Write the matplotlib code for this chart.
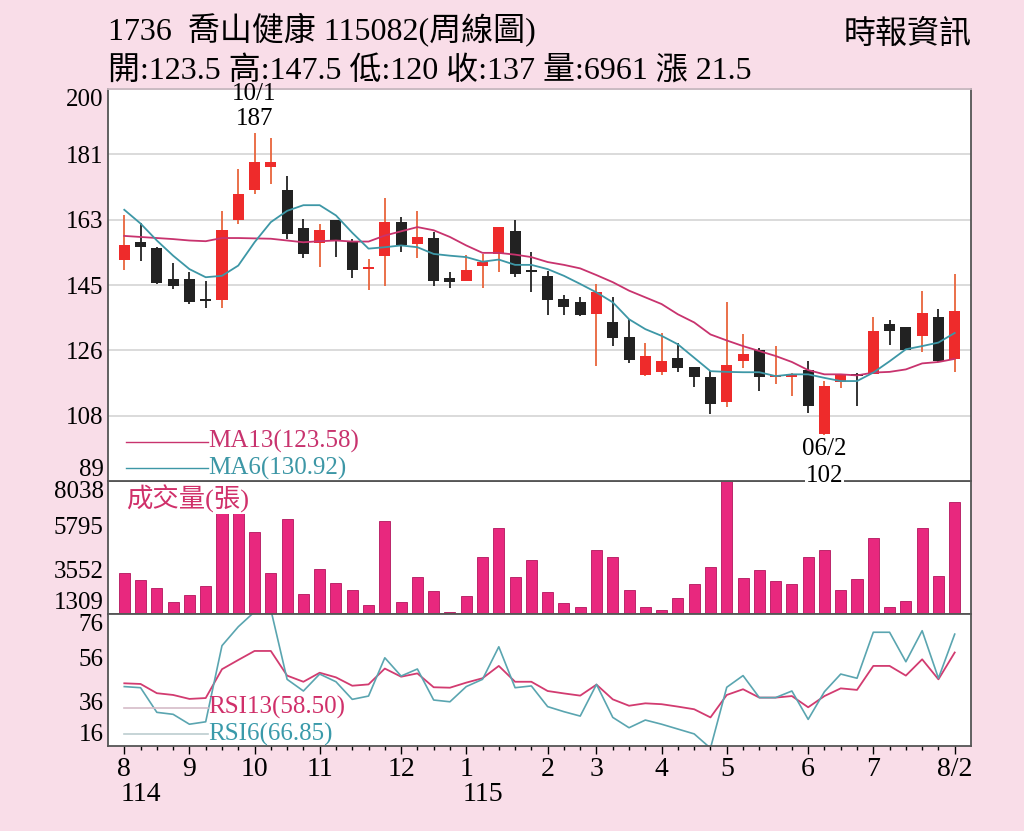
import numpy as np
import matplotlib
matplotlib.use('Agg')
import matplotlib.pyplot as plt
from matplotlib.transforms import blended_transform_factory

plt.rcParams['font.family'] = ['Liberation Serif', 'Noto Sans CJK TC']

# weekly candles, 114/08 .. 115/08
opens = [151.7, 156.7, 155.0, 146.2, 146.2, 140.5, 140.2, 162.8, 171.5, 178.0,
         171.3, 160.7, 156.4, 162.8, 157.1, 149.0, 152.7, 162.3, 156.2, 157.7,
         146.6, 145.7, 149.8, 153.3, 159.8, 148.8, 147.0, 140.5, 139.6, 136.2,
         134.1, 129.8, 118.9, 119.9, 123.9, 121.2, 118.4, 111.4, 123.0, 126.0,
         118.4, 118.5, 120.4, 102.4, 117.0, 119.2, 119.4, 133.4, 132.5, 130.1,
         135.5, 123.5]
highs = [164.2, 162.1, 155.3, 150.7, 148.3, 145.7, 165.4, 177.3, 187.5, 186.0,
         175.4, 163.1, 161.9, 162.8, 157.6, 151.9, 169.0, 163.8, 165.4, 159.5,
         148.1, 153.1, 153.3, 160.8, 162.8, 153.8, 148.6, 141.6, 141.0, 144.8,
         141.0, 134.8, 128.0, 131.0, 128.0, 121.4, 120.1, 139.7, 130.5, 126.8,
         127.1, 119.5, 123.0, 117.3, 119.2, 119.7, 135.3, 134.5, 132.5, 142.7,
         137.7, 147.5]
lows = [148.8, 151.2, 144.8, 143.4, 139.1, 138.1, 137.9, 161.9, 170.4, 173.2,
        157.6, 152.1, 149.7, 152.5, 146.4, 143.1, 144.3, 153.8, 152.1, 144.1,
        143.6, 145.5, 143.6, 148.3, 146.7, 142.6, 136.0, 136.0, 135.8, 121.7,
        127.1, 122.3, 118.7, 118.9, 119.8, 115.7, 108.1, 109.9, 120.9, 114.4,
        116.5, 113.2, 108.3, 102.0, 115.4, 110.1, 119.2, 127.4, 126.0, 125.5,
        122.8, 120.0]
closes = [155.7, 155.4, 145.1, 144.1, 139.7, 140.3, 160.1, 170.4, 179.4, 179.4,
          158.8, 153.3, 160.1, 156.9, 148.8, 149.4, 162.2, 155.7, 158.2, 145.7,
          145.3, 148.8, 151.0, 160.8, 147.7, 148.6, 140.2, 138.2, 136.0, 142.6,
          129.5, 123.2, 124.4, 123.0, 120.9, 118.5, 110.8, 121.8, 124.9, 118.5,
          118.9, 119.4, 110.3, 115.8, 119.2, 118.9, 131.5, 131.5, 126.1, 136.5,
          123.0, 137.0]
ma6 = [165.8, 161.9, 157.1, 152.8, 149.0, 146.7, 147.1, 150.0, 156.6, 162.3,
       165.5, 167.1, 167.1, 164.2, 159.3, 154.8, 155.2, 155.7, 155.2, 153.3,
       152.8, 152.4, 151.1, 151.7, 150.2, 150.2, 149.0, 147.1, 144.8, 142.4,
       139.6, 134.8, 132.0, 130.1, 127.7, 123.9, 120.1, 119.9, 119.8, 119.8,
       118.7, 119.2, 119.2, 118.2, 117.3, 117.3, 119.7, 122.9, 126.3, 127.2,
       128.2, 130.92]
ma13 = [158.4, 158.1, 157.8, 157.5, 157.1, 156.9, 157.8, 157.8, 157.7, 157.6,
        157.1, 156.6, 156.9, 157.1, 156.8, 156.8, 158.5, 159.7, 160.9, 160.0,
        158.1, 155.7, 153.6, 153.6, 153.1, 152.4, 151.0, 150.2, 149.2, 147.3,
        145.3, 142.9, 141.0, 139.1, 136.2, 133.9, 130.5, 128.8, 127.2, 125.8,
        124.4, 122.7, 120.4, 119.2, 119.2, 118.9, 119.7, 119.9, 120.6, 122.3,
        122.7, 123.58]
volumes = [3368, 3029, 2640, 1931, 2286, 2726, 7000, 7100, 5458, 3399,
           6116, 2321, 3586, 2862, 2523, 1764, 6015, 1931, 3166, 2473,
           1425, 2235, 4178, 5661, 3166, 4057, 2437, 1850, 1648, 4547,
           4178, 2523, 1678, 1527, 2119, 2842, 3672, 9000, 3131, 3535,
           2964, 2827, 4193, 4547, 2523, 3065, 5155, 1678, 1967, 5645,
           3232, 6961]
rsi13 = [44.5, 44.2, 40.0, 39.2, 37.4, 37.8, 50.9, 55.1, 59.2, 59.2,
         48.0, 45.2, 49.3, 47.2, 43.4, 44.0, 51.2, 47.5, 49.0, 42.7,
         42.5, 44.8, 46.8, 52.4, 45.2, 45.2, 41.0, 39.9, 38.9, 43.9,
         37.2, 34.3, 35.4, 35.0, 33.9, 32.7, 29.0, 39.2, 41.8, 38.0,
         38.0, 38.7, 33.6, 38.7, 42.2, 41.5, 52.4, 52.4, 48.0, 55.4,
         46.3, 58.50]
rsi6 = [43.0, 42.5, 31.3, 30.4, 25.9, 27.0, 61.6, 70.2, 77.0, 78.0,
        46.3, 41.0, 48.7, 45.2, 37.2, 38.7, 56.1, 47.8, 51.0, 36.9,
        36.1, 43.0, 46.3, 61.1, 42.5, 43.3, 33.9, 31.6, 29.6, 44.0,
        29.0, 24.3, 27.8, 25.9, 23.7, 21.5, 15.0, 42.7, 48.0, 38.0,
        38.0, 41.0, 28.1, 40.7, 48.7, 46.8, 67.7, 67.7, 54.3, 68.4,
        46.8, 66.85]

price_ticks = [89, 107.5, 126, 144.5, 163, 181.5, 200]
price_labels = ['89', '108', '126', '145', '163', '181', '200']
vol_ticks = [1309, 3552, 5795, 8038]
rsi_ticks = [16, 36, 56, 76]
month_pos = [0, 4, 8, 12, 17, 21, 26, 29, 33, 37, 42, 46, 51]
month_labels = ['8', '9', '10', '11', '12', '1', '2', '3', '4', '5', '6', '7', '8/2']
year_marks = [(0, '114'), (21, '115')]

PINK = '#F9DDE8'
RED = '#EE2B2B'
BLACK = '#222222'
C_MA13 = '#C8336E'
C_MA6 = '#3D97A6'

W, H = 1024, 831


def box(l, t, r, b):
    return [l / W, 1 - b / H, (r - l) / W, (b - t) / H]


fig = plt.figure(figsize=(W / 100, H / 100), dpi=100, facecolor=PINK)
ax1 = fig.add_axes(box(108, 89, 971, 481))
ax2 = fig.add_axes(box(108, 481, 971, 614), sharex=ax1)
ax3 = fig.add_axes(box(108, 614, 971, 746), sharex=ax1)
ax1.set_zorder(3)

x = np.arange(len(closes))
o = np.array(opens)
c = np.array(closes)
up = c >= o

# candles
ax1.vlines(x, lows, highs, colors=np.where(up, '#E8643C', BLACK), lw=1.3, zorder=2)
body = np.where(np.abs(c - o) < 0.5, np.where(up, 0.5, -0.5), c - o)
ax1.bar(x, body, bottom=o, width=0.68, color=np.where(up, RED, BLACK), zorder=3)
ax1.plot(x, ma13, color=C_MA13, lw=1.3, zorder=4)
ax1.plot(x, ma6, color=C_MA6, lw=1.3, zorder=4)

ax1.set_xlim(-1.0, 52.0)
ax1.set_ylim(89, 200)
ax1.set_yticks(price_ticks, price_labels)
ax1.grid(axis='y', color='#D4D4D4', lw=1.2)
ax1.set_axisbelow(True)

# legend-style labels
ax1.plot([0.021, 0.116], [0.100, 0.100], transform=ax1.transAxes, color=C_MA13, lw=1)
ax1.plot([0.021, 0.116], [0.033, 0.033], transform=ax1.transAxes, color=C_MA6, lw=1)
ax1.text(0.116, 0.100, 'MA13(123.58)', transform=ax1.transAxes, color=C_MA13,
         fontsize=18, va='center', ha='left')
ax1.text(0.116, 0.033, 'MA6(130.92)', transform=ax1.transAxes, color=C_MA6,
         fontsize=18, va='center', ha='left')

# high / low marks
ax1.annotate('10/1\n187', xy=(8, highs[8]), xytext=(0, 3), textcoords='offset pixels',
             ha='center', va='bottom', fontsize=18, linespacing=1.2, annotation_clip=False)
ax1.annotate('06/2', xy=(43, lows[43]), xytext=(0, -3), textcoords='offset pixels',
             ha='center', va='top', fontsize=18, annotation_clip=False)
ax1.annotate('102', xy=(43, lows[43]), xytext=(0, -30), textcoords='offset pixels',
             ha='center', va='top', fontsize=18, annotation_clip=False,
             bbox=dict(facecolor='white', edgecolor='none', pad=0.5))

# volume
ax2.bar(x, volumes, width=0.68, color='#E8287E', edgecolor='#B3155C', lw=0.6)
ax2.set_ylim(1309, 8038)
ax2.set_yticks(vol_ticks, [str(v) for v in vol_ticks])
ax2.text(0.021, 0.865, '成交量(張)', transform=ax2.transAxes, color='#D0306A',
         fontsize=19, va='center', ha='left',
         bbox=dict(facecolor='white', edgecolor='none', pad=1))

# RSI
ax3.plot(x, rsi13, color='#D23B70', lw=1.3)
ax3.plot(x, rsi6, color='#5AA5B0', lw=1.2)
ax3.set_ylim(16, 76)
ax3.set_yticks(rsi_ticks, [str(v) for v in rsi_ticks])
ax3.plot([0.019, 0.116], [0.29, 0.29], transform=ax3.transAxes, color='#D5BCC8', lw=1.2)
ax3.plot([0.019, 0.116], [0.089, 0.089], transform=ax3.transAxes, color='#BCCDD0', lw=1.2)
ax3.text(0.116, 0.29, 'RSI13(58.50)', transform=ax3.transAxes, color='#D0306A',
         fontsize=18, va='center', ha='left')
ax3.text(0.116, 0.089, 'RSI6(66.85)', transform=ax3.transAxes, color='#3A9AAA',
         fontsize=18, va='center', ha='left')

ax3.set_xticks(month_pos, month_labels)
ax3.set_xticks(x, minor=True)
ax3.tick_params(axis='x', which='major', length=6, width=1, pad=2, labelsize=20)
ax3.tick_params(axis='x', which='minor', length=3, width=1)
tr = blended_transform_factory(ax3.transData, ax3.transAxes)
for pos, lab in year_marks:
    ax3.text(pos - 0.22, -0.37, lab, transform=tr, ha='left', va='center', fontsize=20)

for ax in (ax1, ax2, ax3):
    ax.set_facecolor('white')
    ax.tick_params(axis='y', length=0, pad=3, labelsize=18)
    for s in ax.spines.values():
        s.set_color('#555555')
        s.set_linewidth(1.3)
    labs = ax.get_yticklabels()
    labs[0].set_va('bottom')
    labs[-1].set_va('top')
for ax in (ax1, ax2):
    ax.tick_params(axis='x', which='both', length=0, labelbottom=False)
ax1.spines['top'].set_color('#C8B8C0')

# header
fig.text(108 / W, 1 - 29 / H, '1736  喬山健康 115082(周線圖)', fontsize=23,
         ha='left', va='center')
fig.text(108 / W, 1 - 72 / H, '開:123.5 高:147.5 低:120 收:137 量:6961 漲 21.5',
         fontsize=23, ha='left', va='center')
fig.text(972 / W, 1 - 35 / H, '時報資訊', fontsize=23, ha='right', va='center')

fig.savefig('out.png', dpi=100, facecolor=PINK)
